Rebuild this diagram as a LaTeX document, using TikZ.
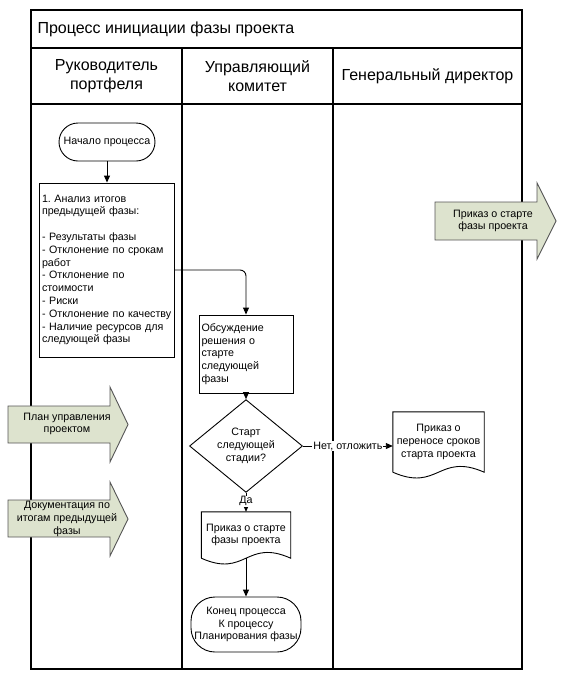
\documentclass[tikz,border=0pt]{standalone}
\usepackage{fontspec}
\setmainfont{Liberation Sans}
\usetikzlibrary{arrows.meta, shapes.geometric, calc}
\frenchspacing

\definecolor{inputgreen}{RGB}{221,227,206}
\definecolor{edgegray}{RGB}{85,85,85}

\tikzset{
  lane/.style={draw, line width=1.1pt},
  procbox/.style={draw, line width=0.9pt, align=left, inner xsep=2.5pt, inner ysep=2pt},
  term/.style={draw, line width=0.9pt, align=center, inner sep=1pt},
  decision/.style={draw, diamond, line width=0.9pt, align=center, inner sep=0pt},
  docnode/.style={align=center, inner sep=1pt},
  docline/.style={draw, line width=0.9pt},
  flow/.style={line width=0.9pt, -{Triangle[length=7pt,width=6pt]}},
  bigarrow/.style={draw=edgegray, fill=inputgreen, line width=0.9pt},
  bigtext/.style={align=center, inner sep=0pt},
  headtext/.style={font=\fontsize{16}{19}\selectfont, align=center}
}

\begin{document}
\begin{tikzpicture}[x=1pt, y=-1pt, font=\fontsize{10.7}{12.8}\selectfont]
\useasboundingbox (0,0) rectangle (568,683);

% swimlanes
\draw[lane] (31,10) rectangle (522,669);
\draw[lane] (31,48) -- (522,48); %title line
\draw[lane] (31,104) -- (522,104); %header line
\draw[lane] (182,48) -- (182,669);
\draw[lane] (333,48) -- (333,669);

\node[anchor=west, font=\fontsize{16}{19}\selectfont] (title) at (34,29) {Процесс инициации фазы проекта};
\node[headtext] (hdrPortfolio) at (106.5,76) {Руководитель\\портфеля};
\node[headtext] (hdrCommittee) at (257.5,76) {Управляющий\\комитет};
\node[headtext] (hdrDirector) at (427.5,76) {Генеральный директор};

% input documents
\draw[bigarrow] (435,202) -- (537,202) -- (537,183) -- (556,221) -- (537,259) -- (537,240) -- (435,240) -- cycle;
\node[bigtext] (outOrder) at (493,221) {Приказ о старте\\фазы проекта};

\draw[bigarrow] (8,406) -- (110,406) -- (110,387) -- (128,424.5) -- (110,462) -- (110,443) -- (8,443) -- cycle;
\node[bigtext] (inPlan) at (67,424) {План управления\\проектом};

\draw[bigarrow] (8,500) -- (110,500) -- (110,482) -- (128,519) -- (110,556) -- (110,537) -- (8,537) -- cycle;
\node[bigtext] (inDocs) at (67,519) {Документация по\\итогам предыдущей\\фазы};

% flow
\node[term, rounded corners=19pt, minimum width=96pt, minimum height=38pt] (start) at (107,142) {Начало процесса};

\node[procbox, text width=130pt, minimum height=174pt] (analysis) at (107,270) {1. Анализ итогов\\предыдущей фазы:\\[12.8pt]- Результаты фазы\\- Отклонение по срокам\\работ\\- Отклонение по\\стоимости\\- Риски\\- Отклонение по качеству\\- Наличие ресурсов для\\следующей фазы};

\node[procbox, text width=89pt, minimum height=78pt] (discuss) at (246,354) {Обсуждение\\решения о\\старте\\следующей\\фазы};

\node[decision, minimum width=113pt, minimum height=66pt] (decide) at (246,446) {Старт\\следующей\\стадии?};

\node[docnode, minimum width=91pt, minimum height=60pt] (postpone) at (438.5,442) {Приказ о\\переносе сроков\\старта проекта};
\draw[docline] (postpone.south west) -- (postpone.north west) -- (postpone.north east) -- (postpone.south east)
  .. controls ($(postpone.south)+(0,-20)$) and ($(postpone.south)+(0,20)$) .. (postpone.south west);

\node[docnode, minimum width=89pt, minimum height=46pt] (startOrder) at (246,535) {Приказ о старте\\фазы проекта};
\draw[docline] (startOrder.south west) -- (startOrder.north west) -- (startOrder.north east) -- (startOrder.south east)
  .. controls ($(startOrder.south)+(0,-20)$) and ($(startOrder.south)+(0,20)$) .. (startOrder.south west);

\node[term, rounded corners=24pt, minimum width=110pt, minimum height=55pt] (finish) at (246,624.5) {Конец процесса\\К процессу\\Планирования фазы};

% connectors
\draw[flow] (start) -- (analysis);
\draw[flow, rounded corners=6pt] (analysis.east) -| (discuss.north);
\draw[flow] (discuss) -- (decide);
\draw[flow] (decide.east) -- node[fill=white, inner sep=1pt] (noLabel) {Нет, отложить} (decide.east -| postpone.west);
\draw[flow] (decide.south) -- node[fill=white, inner sep=1pt, pos=0.45] (yesLabel) {Да} (startOrder.north);
\draw[flow] (startOrder.south) -- (finish.north);

\end{tikzpicture}
\end{document}
